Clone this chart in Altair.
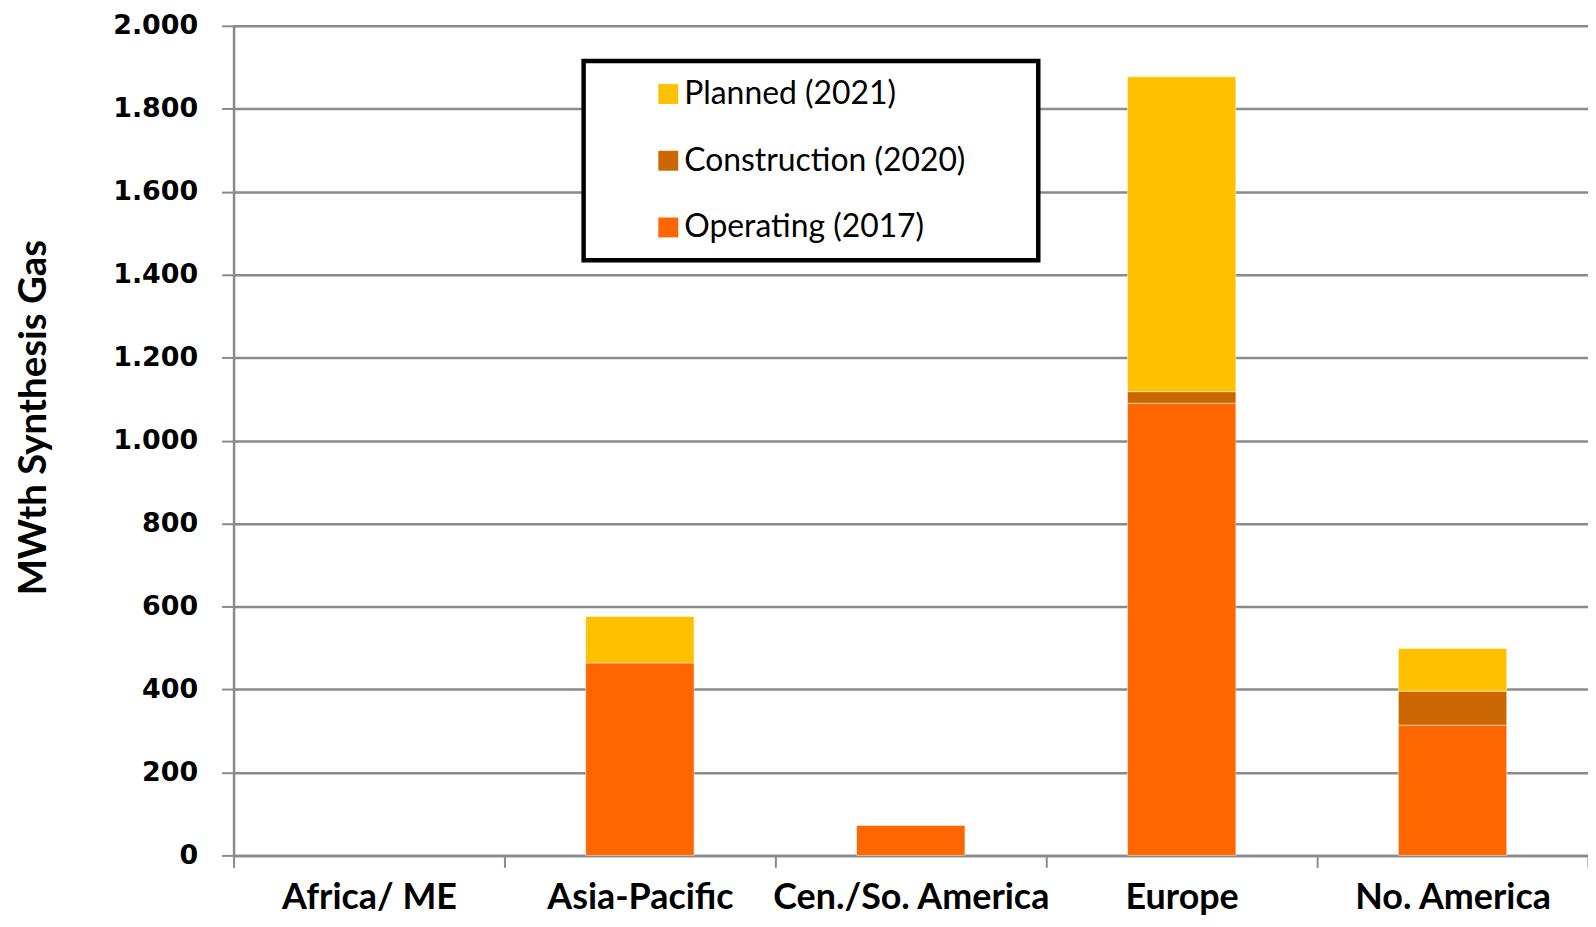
import altair as alt
import pandas as pd

regions = ["Africa/ ME", "Asia-Pacific", "Cen./So. America", "Europe", "No. America"]
operating = [0, 464, 72, 1090, 314]
construction = [0, 0, 0, 28, 82]
planned = [0, 112, 0, 759, 103]

series = ["Planned (2021)", "Construction (2020)", "Operating (2017)"]
colors = ["#FFC000", "#CC6600", "#FF6600"]
stack_rank = {"Operating (2017)": 0, "Construction (2020)": 1, "Planned (2021)": 2}
y_ticks = [0, 200, 400, 600, 800, 1000, 1200, 1400, 1600, 1800, 2000]

rows = []
for i, r in enumerate(regions):
    for s, vals in (("Operating (2017)", operating), ("Construction (2020)", construction), ("Planned (2021)", planned)):
        rows.append({"region": r, "series": s, "value": vals[i], "rank": stack_rank[s]})
df = pd.DataFrame(rows)

grid = "#8a8a8a"

bars = (
    alt.Chart(df)
    .transform_filter("datum.value > 0")
    .mark_bar(width=alt.RelativeBandSize(0.4), stroke="#ffffff", strokeWidth=0.8, strokeOpacity=0.6)
    .encode(
        x=alt.X(
            "region:N",
            sort=regions,
            title=None,
            scale=alt.Scale(domain=regions, paddingInner=0, paddingOuter=0),
            axis=alt.Axis(
                labelAngle=0,
                labelFont="Lato",
                labelFontWeight="bold",
                labelFontSize=36,
                labelColor="#000000",
                labelPadding=13,
                tickBand="extent",
                tickSize=12,
                tickColor=grid,
                tickWidth=2,
                domainColor=grid,
                domainWidth=2.5,
                grid=False,
                labelLimit=400,
            ),
        ),
        y=alt.Y(
            "value:Q",
            stack="zero",
            scale=alt.Scale(domain=[0, 2000], nice=False),
            title="MWth Synthesis Gas",
            axis=alt.Axis(
                values=y_ticks,
                labelExpr="replace(format(datum.value, ','), ',', '.')",
                labelFont="DejaVu Sans",
                labelFontWeight="bold",
                labelFontSize=27,
                labelColor="#000000",
                labelPadding=24,
                tickSize=12,
                tickColor=grid,
                tickWidth=2,
                domainColor=grid,
                domainWidth=2.5,
                gridColor=grid,
                gridWidth=2.5,
                titleFont="Lato",
                titleFontWeight="bold",
                titleFontSize=38.5,
                titleColor="#000000",
                titleBaseline="alphabetic",
                titleAngle=270,
                titleX=-189,
                titleY=393,
            ),
        ),
        color=alt.Color(
            "series:N",
            scale=alt.Scale(domain=series, range=colors),
            legend=alt.Legend(
                title=None,
                orient="none",
                legendX=420.5,
                legendY=52.5,
                padding=0,
                symbolType="square",
                symbolSize=400,
                symbolStrokeWidth=0,
                labelOffset=0,
                labelFont="Lato",
                labelFontSize=32,
                labelColor="#000000",
                labelLimit=700,
                rowPadding=35,
            ),
        ),
        order=alt.Order("rank:Q", sort="ascending"),
    )
)

frame = (
    alt.Chart(pd.DataFrame({"box": ["legend"]}))
    .mark_rect(fill="#ffffff", stroke="#000000", strokeWidth=4.5)
    .encode(
        x=alt.value(351.5),
        x2=alt.value(808),
        y=alt.value(35.3),
        y2=alt.value(235.5),
    )
)

chart = (
    alt.layer(frame, bars)
    .properties(
        width=1360,
        height=833,
        autosize=alt.AutoSizeParams(type="none"),
        padding={"left": 226.5, "top": 16, "right": 0, "bottom": 61},
    )
    .configure_view(stroke=None)
    .configure(background="#ffffff")
)

chart.save("out.html", embed_options={"renderer": "svg", "actions": False})
